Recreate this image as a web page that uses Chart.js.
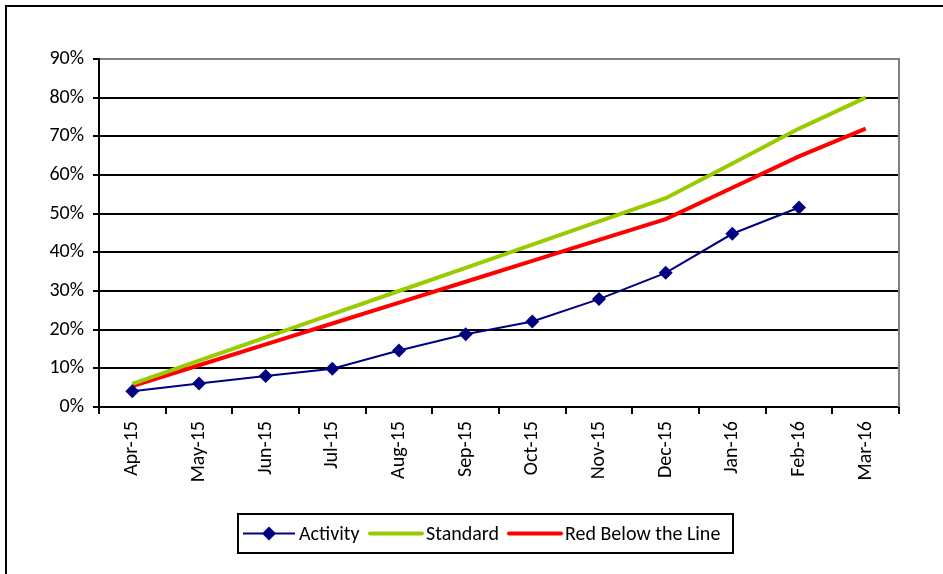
<!DOCTYPE html>
<html>
<head>
<meta charset="utf-8">
<script src="https://cdn.jsdelivr.net/npm/chart.js@4/dist/chart.umd.min.js"></script>
<style>
  html, body { margin: 0; padding: 0; background: #fff; overflow: hidden; }
  #wrap { position: relative; width: 943px; height: 574px; }
  #frame { position: absolute; left: 5px; top: 5px; width: 980px; height: 620px; border: 2px solid #000; }
  canvas { position: absolute; left: 0; top: 0; }
</style>
</head>
<body>
<div id="wrap">
  <div id="frame"></div>
  <canvas id="lineChart" width="943" height="574"></canvas>
</div>
<script>
// chart values
const months = ["Apr-15", "May-15", "Jun-15", "Jul-15", "Aug-15", "Sep-15",
                "Oct-15", "Nov-15", "Dec-15", "Jan-16", "Feb-16", "Mar-16"];
const activity = [4.1, 6.1, 8, 9.9, 14.6, 18.8, 22.1, 27.9, 34.7, 44.8, 51.6, null];
const standard = [6, 12, 18, 24, 30, 36, 42, 48, 54, 63, 72, 80];
const redLine = [5.4, 10.8, 16.2, 21.6, 27, 32.4, 37.8, 43.2, 48.6, 56.7, 64.8, 72];
const yTicks = [0, 10, 20, 30, 40, 50, 60, 70, 80, 90];

const fontFamily = "Carlito, Calibri, Lato, sans-serif";

// right edge of plot area + legend box, like Excel draws them
const framePlugin = {
  id: "framePlugin",
  beforeDatasetsDraw(chart) {
    const ctx = chart.ctx;
    const area = chart.chartArea;
    ctx.save();
    ctx.strokeStyle = "#808080";
    ctx.lineWidth = 2;
    ctx.beginPath();
    ctx.moveTo(area.right, area.top - 1);
    ctx.lineTo(area.right, area.bottom);
    ctx.stroke();
    ctx.restore();
  },
  afterDraw(chart) {
    const ctx = chart.ctx;
    const box = { left: 238, top: 514, width: 495, height: 39 };
    const cy = box.top + box.height / 2;
    ctx.save();
    ctx.strokeStyle = "#000";
    ctx.lineWidth = 2;
    ctx.strokeRect(box.left, box.top, box.width, box.height);

    ctx.font = "20px " + fontFamily;
    ctx.fillStyle = "#000";
    ctx.textBaseline = "middle";
    const starts = [243, 370, 509];
    chart.data.datasets.forEach((ds, i) => {
      const x0 = starts[i];
      ctx.strokeStyle = ds.borderColor;
      ctx.lineWidth = ds.borderWidth;
      ctx.lineCap = ds.borderWidth > 2 ? "round" : "butt";
      ctx.beginPath();
      ctx.moveTo(x0, cy);
      ctx.lineTo(x0 + 52, cy);
      ctx.stroke();
      if (ds.pointRadius > 0) {
        const mx = x0 + 26, r = 7;
        ctx.fillStyle = ds.borderColor;
        ctx.beginPath();
        ctx.moveTo(mx, cy - r);
        ctx.lineTo(mx + r, cy);
        ctx.lineTo(mx, cy + r);
        ctx.lineTo(mx - r, cy);
        ctx.closePath();
        ctx.fill();
      }
      ctx.fillStyle = "#000";
      ctx.fillText(ds.label, x0 + 56, cy + 1);
    });
    ctx.restore();
  }
};

function createLineChart() {
  const chartData = {
    labels: months,
    datasets: [
      {
        label: "Activity",
        data: activity,
        borderColor: "#000080",
        backgroundColor: "#000080",
        borderWidth: 2,
        pointStyle: "rectRot",
        pointRadius: 7,
        pointBorderWidth: 0,
        tension: 0,
      },
      {
        label: "Standard",
        data: standard,
        borderColor: "#99CC00",
        borderWidth: 4,
        pointRadius: 0,
        tension: 0,
      },
      {
        label: "Red Below the Line",
        data: redLine,
        borderColor: "#FF0000",
        borderWidth: 4,
        pointRadius: 0,
        tension: 0,
      },
    ],
  };

  const chartOptions = {
    responsive: false,
    animation: false,
    layout: { padding: { left: 0, top: 59, right: 44, bottom: 0 } },
    plugins: {
      legend: { display: false },
      tooltip: { enabled: false },
    },
    scales: {
      x: {
        offset: true,
        grid: {
          offset: true,
          drawOnChartArea: false,
          drawTicks: true,
          tickLength: 7,
          color: "#000",
          lineWidth: 2,
        },
        border: { color: "#000", width: 2 },
        ticks: {
          color: "#000",
          font: { family: fontFamily, size: 20 },
          minRotation: 90,
          maxRotation: 90,
          padding: 7,
          autoSkip: false,
        },
        afterFit(scale) { scale.height = 167; },
      },
      y: {
        min: 0,
        max: 90,
        afterBuildTicks(scale) {
          scale.ticks = yTicks.map((v) => ({ value: v }));
        },
        grid: {
          color: (c) => (c.tick && c.tick.value === 90 ? "#808080" : "#000"),
          lineWidth: 2,
          tickLength: 6,
          tickColor: "#000",
        },
        border: { color: "#000", width: 2 },
        ticks: {
          color: "#000",
          font: { family: fontFamily, size: 20 },
          padding: 9,
          callback: (v) => v + "%",
        },
        afterFit(scale) { scale.width = 99; },
      },
    },
  };

  const ctx = document.getElementById("lineChart").getContext("2d");
  new Chart(ctx, {
    type: "line",
    data: chartData,
    options: chartOptions,
    plugins: [framePlugin],
  });
}

createLineChart();
</script>
</body>
</html>
